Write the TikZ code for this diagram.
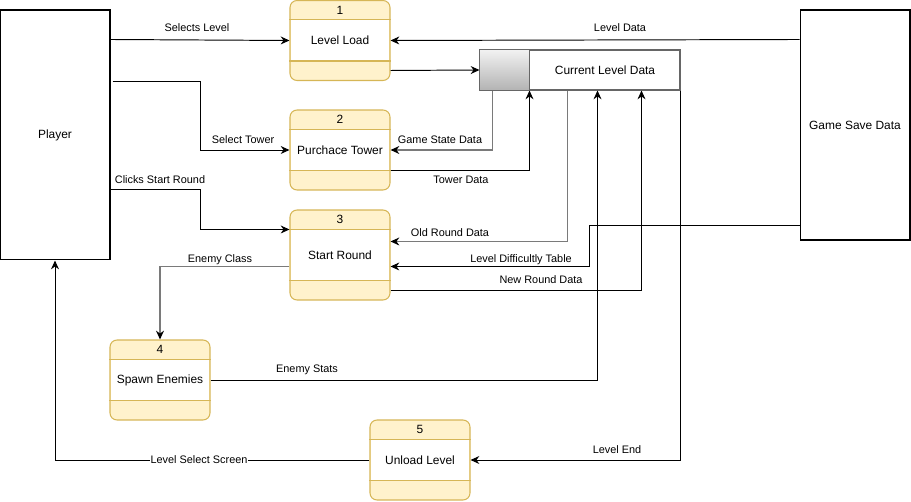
\documentclass[tikz,border=0pt]{standalone}
\usepackage{fontspec}
\setmainfont{Liberation Sans}
\usetikzlibrary{arrows.meta, calc}

\definecolor{procfill}{HTML}{FFF2CC}
\definecolor{procdraw}{HTML}{D6B656}
\definecolor{flowgray}{HTML}{7A7A7A}

\tikzset{
  proc/.style={draw=procdraw, fill=procfill, rounded corners=4pt, minimum width=2cm, line width=0.6pt},
  entity/.style={draw, line width=0.6pt, minimum width=2.2cm, font=\fontsize{6.8}{8}\selectfont},
  boxtext/.style={font=\fontsize{6.8}{8}\selectfont, inner sep=1pt},
  lbl/.style={font=\fontsize{6.2}{7}\selectfont, inner sep=1pt},
  flow/.style={-{Stealth[length=5pt,width=4.5pt,color=black]}, line width=0.55pt},
  gflow/.style={flow, draw=flowgray, line width=1pt},
}

% process box: name, centre, height, number, text
\newcommand{\process}[5]{%
  \node[proc, minimum height=#3] (#1) at #2 {};
  \fill[white] ([yshift=-0.4cm, xshift=0.6pt]#1.north west) rectangle ([yshift=0.4cm, xshift=-0.6pt]#1.south east);
  \draw[procdraw, line width=0.6pt] ([yshift=-0.4cm]#1.north west) -- ([yshift=-0.4cm]#1.north east);
  \draw[procdraw, line width=0.6pt] ([yshift=0.4cm]#1.south west) -- ([yshift=0.4cm]#1.south east);
  \node[boxtext] (#1n) at ([yshift=-0.2cm]#1.north) {#4};
  \node[boxtext] (#1t) at (#1.center) {#5};
}

\begin{document}
\begin{tikzpicture}[x=0.02cm, y=-0.02cm]
  \useasboundingbox (0,0) rectangle (911,502);

  % external entities
  \node[entity, minimum height=5cm] (player) at (55,135) {Player};
  \node[entity, minimum height=4.6cm] (gsd) at (855,125) {Game Save Data};

  % processes
  \process{p1}{(340,40.5)}{1.6cm}{1}{Level Load}
  \process{p2}{(340,150)}{1.6cm}{2}{Purchace Tower}
  \process{p3}{(340,255)}{1.8cm}{3}{Start Round}
  \process{p4}{(160,380)}{1.6cm}{4}{Spawn Enemies}
  \process{p5}{(420,460)}{1.6cm}{5}{Unload Level}

  % data store
  \node[draw=gray!80!black, line width=0.6pt, minimum width=4cm, minimum height=0.8cm] (cld) at (580,70) {};
  \shade[top color=gray!10, bottom color=gray!60] (cld.north west) rectangle ($(cld.south west)+(50,0)$);
  \draw[gray!80!black, line width=0.6pt] (cld.north west) rectangle ($(cld.south west)+(50,0)$);
  \node[boxtext] (cldt) at (605,70) {Current Level Data};

  % flows
  \draw[flow] ($(player.north east)+(0,30)$) -- (p1.west);
  \draw[flow] ($(player.north east)+(2,72)$) -- ++(88,0) |- (p2.west);
  \draw[flow] ($(player.north east)+(0,180)$) -- ++(90,0) |- ($(p3.north west)+(0,20)$);
  \draw[flow] ($(p1.east)+(0,30)$) -- (cld.west);
  \draw[flow] ($(gsd.north west)+(0,30)$) -- (p1.east);
  \draw[gflow] ($(cld.south west)+(13,0)$) |- (p2.east);
  \draw[flow] ($(p2.east)+(0,20)$) -| ($(cld.south west)+(50,0)$);
  \draw[gflow] ($(cld.south west)+(88,0)$) |- ($(p3.north east)+(0,32)$);
  \draw[flow] ($(gsd.south west)+(0,-15)$) -- ++(-210,0) |- ($(p3.north east)+(0,57)$);
  \draw[flow] ($(p3.south east)+(0,-10)$) -| ($(cld.south west)+(162,0)$);
  \draw[gflow] ($(p3.north west)+(0,57)$) -| (p4.north);
  \draw[flow] (p4.east) -| ($(cld.south west)+(118,0)$);
  \draw[flow] (cld.south east) |- (p5.east);
  \draw[flow] (p5.west) -| (player.south);

  % flow labels
  \node[lbl] (lsel) at (197,28) {Selects Level};
  \node[lbl] (ltow) at (243,140) {Select Tower};
  \node[lbl] (lclk) at (160,180) {Clicks Start Round};
  \node[lbl] (ldat) at (620,28) {Level Data};
  \node[lbl] (lgsd) at (440,140) {Game State Data};
  \node[lbl] (ltwd) at (461,180) {Tower Data};
  \node[lbl] (lold) at (450,233) {Old Round Data};
  \node[lbl] (ldif) at (521,260) {Level Difficultly Table};
  \node[lbl] (lnew) at (541,280) {New Round Data};
  \node[lbl] (lcls) at (220,260) {Enemy Class};
  \node[lbl] (lsta) at (307,370) {Enemy Stats};
  \node[lbl] (lend) at (617,450) {Level End};
  \node[lbl, fill=white, inner sep=0.5pt] (lscr) at (199,460) {Level Select Screen};
\end{tikzpicture}
\end{document}
